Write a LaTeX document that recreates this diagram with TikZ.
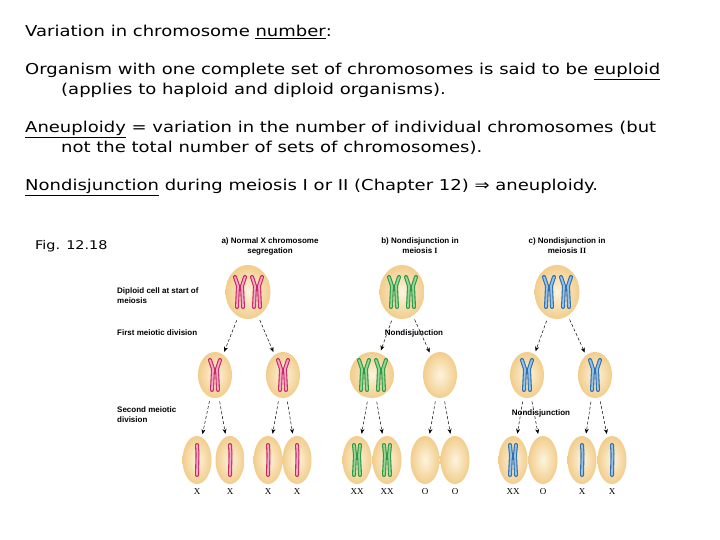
\documentclass[tikz,border=0pt]{standalone}
\usepackage{fontspec}
\setmainfont{DejaVu Sans}[FakeStretch=1.2]
\newfontfamily\figfont{Liberation Sans}
\newfontfamily\serfont{Liberation Serif}
\usetikzlibrary{arrows.meta,shapes.geometric}
\definecolor{cellout}{RGB}{242,205,140}
\definecolor{cellin}{RGB}{253,244,222}
\definecolor{pinkd}{RGB}{200,40,100}
\definecolor{pinkl}{RGB}{245,170,200}
\definecolor{greend}{RGB}{50,150,70}
\definecolor{greenl}{RGB}{150,215,150}
\definecolor{blued}{RGB}{50,110,170}
\definecolor{bluel}{RGB}{150,195,230}
\tikzset{
  cell/.style={ellipse,inner sep=0pt,minimum width=#1,shading=radial,inner color=cellin,outer color=cellout},
  arr/.style={densely dashed,-{Stealth[length=5pt,width=4pt]},line width=0.5pt,shorten <=4pt,shorten >=3pt},
  lab/.style={font=\figfont\bfseries\fontsize{8}{10}\selectfont,align=left,inner sep=0pt},
  ttl/.style={font=\figfont\bfseries\fontsize{8}{10}\selectfont,align=center,inner sep=0pt},
  gam/.style={font=\serfont\fontsize{9}{10}\selectfont,inner sep=0pt},
  body/.style={font=\fontsize{15}{18}\selectfont,anchor=base west,inner sep=0pt},
  pics/xchr/.style n args={2}{code={
    \foreach \s in {-1,1}{
      \draw[line width=4pt,#1,line cap=round,line join=round] (\s*5,-15)--(\s*2,-6)--(\s*3,15);
      \draw[line width=1.8pt,#2,line cap=round,line join=round] (\s*5,-15)--(\s*2,-6)--(\s*3,15);}
  }},
  pics/schr/.style n args={2}{code={
      \draw[line width=4pt,#1,line cap=round,line join=round] (0,-15)--(0.5,-6)--(0,15);
      \draw[line width=1.8pt,#2,line cap=round,line join=round] (0,-15)--(0.5,-6)--(0,15);
  }},
  pics/dchr/.style n args={2}{code={
    \foreach \s in {-1,1}{
      \draw[line width=4pt,#1,line cap=round,line join=round] (\s*3,-15)--(\s*2,-5)--(\s*3,15);
      \draw[line width=1.8pt,#2,line cap=round,line join=round] (\s*3,-15)--(\s*2,-5)--(\s*3,15);}
  }},
}
\begin{document}
\begin{tikzpicture}[x=1pt,y=-1pt]
\useasboundingbox[fill=white] (0,0) rectangle (720,540);
% text
\node[body] (t1) at (25,37) {Variation in chromosome \underline{number}:};
\node[body] (t2) at (25,75) {Organism with one complete set of chromosomes is said to be \underline{euploid}};
\node[body] (t3) at (61,95) {(applies to haploid and diploid organisms).};
\node[body] (t4) at (25,133) {\underline{Aneuploidy} = variation in the number of individual chromosomes (but};
\node[body] (t5) at (61,153) {not the total number of sets of chromosomes).};
\node[body] (t6) at (25,191) {\underline{Nondisjunction} during meiosis I or II (Chapter 12) ⇒ aneuploidy.};
\node[body,font=\fontsize{12}{14}\selectfont] (fig) at (35,249) {Fig. 12.18};
% titles
\node[ttl] (ta) at (270,246) {a) Normal X chromosome\\segregation};
\node[ttl] (tb) at (420,246) {b) Nondisjunction in\\meiosis {\serfont I}};
\node[ttl] (tc) at (567,246) {c) Nondisjunction in\\meiosis {\serfont II}};
\node[lab,anchor=west] (l1) at (117,296) {Diploid cell at start of\\meiosis};
\node[lab,anchor=west] (l2) at (117,333) {First meiotic division};
\node[lab,anchor=west] (l3) at (117,415) {Second meiotic\\division};
\node[lab] (nb) at (414,333) {Nondisjunction};
\node[lab] (nc) at (541,413) {Nondisjunction};
% cells
\foreach \n/\x in {A/248,B/402,C/557}{\node[cell=45pt,minimum height=54pt] (\n) at (\x,292) {};}
\foreach \n/\x/\w in {A1/215/34,A2/283/34,B1/372/44,B2/440/34,C1/527/34,C2/595/34}{\node[cell=\w pt,minimum height=46pt] (\n) at (\x,375) {};}
\foreach \n/\x in {a1/197,a2/230,a3/268,a4/297,b1/357,b2/387,b3/425,b4/455,c1/513,c2/543,c3/582,c4/612}{\node[cell=29pt,minimum height=48pt] (\n) at (\x,460) {};}
% chromosomes
\pic at (240,292) {xchr={pinkd}{pinkl}}; \pic at (257,292) {xchr={pinkd}{pinkl}};
\pic at (394,292) {xchr={greend}{greenl}}; \pic at (411,292) {xchr={greend}{greenl}};
\pic at (549,292) {xchr={blued}{bluel}}; \pic at (566,292) {xchr={blued}{bluel}};
\pic at (215,375) {xchr={pinkd}{pinkl}}; \pic at (283,375) {xchr={pinkd}{pinkl}};
\pic at (364,375) {xchr={greend}{greenl}}; \pic at (381,375) {xchr={greend}{greenl}};
\pic at (527,375) {xchr={blued}{bluel}}; \pic at (595,375) {xchr={blued}{bluel}};
\foreach \x in {197,230,268,297}{\pic at (\x,460) {schr={pinkd}{pinkl}};}
\foreach \x in {357,387}{\pic at (\x,460) {dchr={greend}{greenl}};}
\pic at (513,460) {dchr={blued}{bluel}};
\foreach \x in {582,612}{\pic at (\x,460) {schr={blued}{bluel}};}
% gamete labels
\foreach \n/\t in {a1/X,a2/X,a3/X,a4/X,b1/XX,b2/XX,b3/O,b4/O,c1/XX,c2/O,c3/X,c4/X}{\node[gam] (g\n) at ([yshift=-32pt]\n.center) {\t};}
% arrows
\foreach \p/\c in {A/A1,A/A2,B/B1,B/B2,C/C1,C/C2,A1/a1,A1/a2,A2/a3,A2/a4,B1/b1,B1/b2,B2/b3,B2/b4,C1/c1,C1/c2,C2/c3,C2/c4}{
  \draw[arr] (\p) -- (\c);}
\end{tikzpicture}
\end{document}
